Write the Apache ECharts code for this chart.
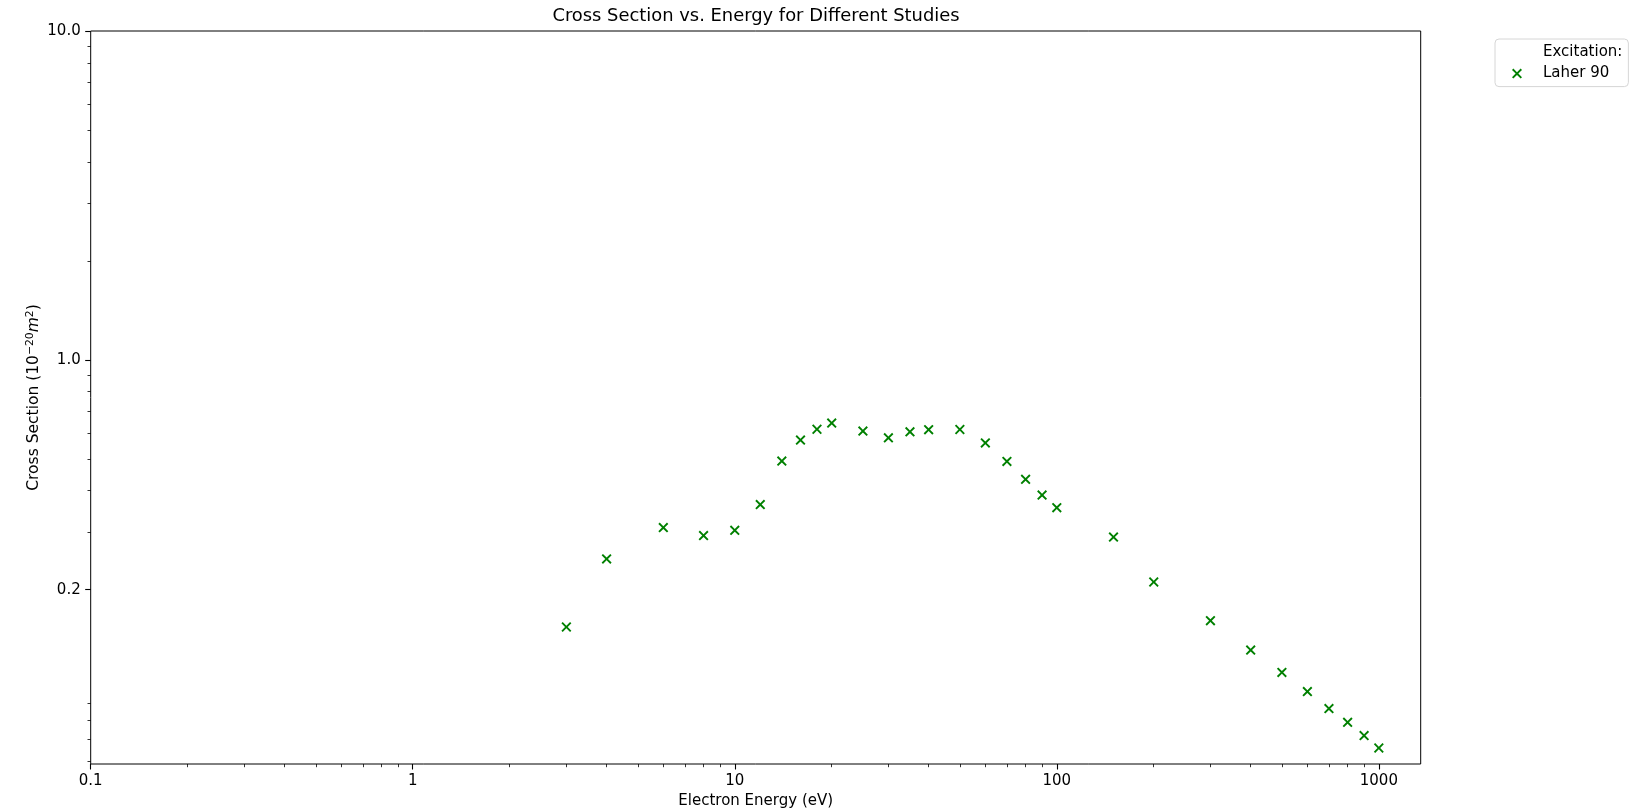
<!DOCTYPE html>
<html>
<head>
<meta charset="utf-8">
<script src="https://cdn.jsdelivr.net/npm/echarts@6/dist/echarts.min.js"></script>
<style>
  html, body { margin: 0; padding: 0; background: #fff; }
  #main { width: 1651px; height: 811px; }
</style>
</head>
<body>
<div id="main"></div>
<script>
// data
var energy = [3, 4, 6, 8, 10, 12, 14, 16, 18, 20, 25, 30, 35, 40, 50, 60, 70, 80, 90, 100, 150, 200, 300, 400, 500, 600, 700, 800, 900, 1000];
var crossSection = [0.154, 0.248, 0.309, 0.292, 0.303, 0.363, 0.492, 0.570, 0.615, 0.642, 0.607, 0.579, 0.604, 0.613, 0.614, 0.559, 0.491, 0.433, 0.388, 0.355, 0.289, 0.211, 0.161, 0.131, 0.112, 0.098, 0.087, 0.079, 0.072, 0.066];

var xTickValues = [0.1, 1, 10, 100, 1000];
var xTickLabels = ['0.1', '1', '10', '100', '1000'];
var yTickValues = [0.2, 1, 10];
var yTickLabels = ['0.2', '1.0', '10.0'];

var xMin = 0.1, xMax = 1349;
var yMin = 0.059, yMax = 10;

var green = '#008000';
var font = 'DejaVu Sans';
var tickFont = 15;
var xMarker = 'path://M1.35,0 L5,3.65 L8.65,0 L10,1.35 L6.35,5 L10,8.65 L8.65,10 L5,6.35 L1.35,10 L0,8.65 L3.65,5 L0,1.35 Z';

function lg(v) { return Math.log10(v); }

// minor ticks at 2..9 x 10^n inside a range
function minorTicks(lo, hi) {
    var out = [];
    for (var p = -3; p <= 4; p++) {
        for (var k = 2; k <= 9; k++) {
            var v = k * Math.pow(10, p);
            if (v >= lo && v <= hi) out.push(lg(v));
        }
    }
    return out;
}

function labelFor(values, labels) {
    return function (v) {
        for (var i = 0; i < values.length; i++) {
            if (Math.abs(lg(values[i]) - v) < 1e-6) return labels[i];
        }
        return '';
    };
}

var points = energy.map(function (e, i) { return [e, crossSection[i]]; });

var hidden = {
    axisLine: { show: false, onZero: false },
    axisTick: { show: false },
    axisLabel: { show: false },
    splitLine: { show: false }
};

var myChart = echarts.init(document.getElementById('main'), null, { renderer: 'canvas' });

var option = {
    backgroundColor: '#fff',
    animation: false,
    textStyle: { fontFamily: font },
    title: {
        text: 'Cross Section vs. Energy for Different Studies',
        left: 756,
        textAlign: 'center',
        top: 7.5,
        padding: 0,
        textStyle: { fontFamily: font, fontSize: 17.9, fontWeight: 'normal', color: '#000' }
    },
    grid: {
        left: 90.7,
        right: 230.3,
        top: 31,
        bottom: 47,
        show: true,
        borderColor: '#000',
        borderWidth: 1,
        backgroundColor: '#fff',
        outerBoundsMode: 'none'
    },
    legend: {
        orient: 'vertical',
        left: 1495,
        top: 39,
        padding: [5, 6, 5, 1],
        itemGap: 5.6,
        itemWidth: 42,
        itemHeight: 10,
        borderColor: '#d6d6d6',
        borderWidth: 1,
        borderRadius: 4,
        backgroundColor: 'rgba(255,255,255,0.8)',
        textStyle: { fontFamily: font, fontSize: 15, color: '#000', lineHeight: 16 },
        data: [
            { name: 'Excitation:', icon: 'rect', itemStyle: { opacity: 0 } },
            { name: 'Laher 90', icon: xMarker }
        ]
    },
    xAxis: [
        Object.assign({ type: 'log', logBase: 10, min: xMin, max: xMax }, hidden),
        {
            type: 'value',
            position: 'bottom',
            min: lg(xMin),
            max: lg(xMax),
            axisLine: { show: false, onZero: false },
            splitLine: { show: false },
            axisTick: {
                show: true,
                length: 5.5,
                lineStyle: { color: '#000', width: 1.1 },
                customValues: xTickValues.map(lg)
            },
            axisLabel: {
                show: true,
                margin: 10,
                fontFamily: font,
                fontSize: tickFont,
                color: '#000',
                customValues: xTickValues.map(lg),
                formatter: labelFor(xTickValues, xTickLabels)
            },
            name: 'Electron Energy (eV)',
            nameLocation: 'middle',
            nameGap: 28,
            nameTextStyle: { fontFamily: font, fontSize: 15, color: '#000' }
        },
        {
            type: 'value',
            position: 'bottom',
            min: lg(xMin),
            max: lg(xMax),
            axisLine: { show: false, onZero: false },
            splitLine: { show: false },
            axisLabel: { show: false },
            axisTick: {
                show: true,
                length: 3.2,
                lineStyle: { color: '#000', width: 0.8 },
                customValues: minorTicks(xMin, xMax)
            }
        }
    ],
    yAxis: [
        Object.assign({ type: 'log', logBase: 10, min: yMin, max: yMax }, hidden),
        {
            type: 'value',
            position: 'left',
            min: lg(yMin),
            max: lg(yMax),
            axisLine: { show: false, onZero: false },
            splitLine: { show: false },
            axisTick: {
                show: true,
                length: 5.5,
                lineStyle: { color: '#000', width: 1.1 },
                customValues: yTickValues.map(lg)
            },
            axisLabel: {
                show: true,
                margin: 10,
                fontFamily: font,
                fontSize: tickFont,
                color: '#000',
                customValues: yTickValues.map(lg),
                formatter: labelFor(yTickValues, yTickLabels)
            },
            name: 'Cross Section (10{sup|\u221220}{it|m}{sup|2})',
            nameLocation: 'middle',
            nameRotate: 90,
            nameGap: 48,
            nameMoveOverlap: false,
            nameTextStyle: {
                fontFamily: font,
                fontSize: 15.5,
                color: '#000',
                rich: {
                    sup: { fontFamily: font, fontSize: 10.8, color: '#000', verticalAlign: 'top', padding: [0, 0, 7, 0] },
                    it: { fontFamily: font, fontSize: 15.5, fontStyle: 'italic', color: '#000' }
                }
            }
        },
        {
            type: 'value',
            position: 'left',
            min: lg(yMin),
            max: lg(yMax),
            axisLine: { show: false, onZero: false },
            splitLine: { show: false },
            axisLabel: { show: false },
            axisTick: {
                show: true,
                length: 3.2,
                lineStyle: { color: '#000', width: 0.8 },
                customValues: minorTicks(yMin, yMax)
            }
        }
    ],
    series: [
        {
            name: 'Excitation:',
            type: 'scatter',
            data: []
        },
        {
            name: 'Laher 90',
            type: 'scatter',
            xAxisIndex: 0,
            yAxisIndex: 0,
            symbol: xMarker,
            symbolSize: 10,
            itemStyle: { color: green, opacity: 1 },
            data: points
        }
    ]
};

myChart.setOption(option);
</script>
</body>
</html>
